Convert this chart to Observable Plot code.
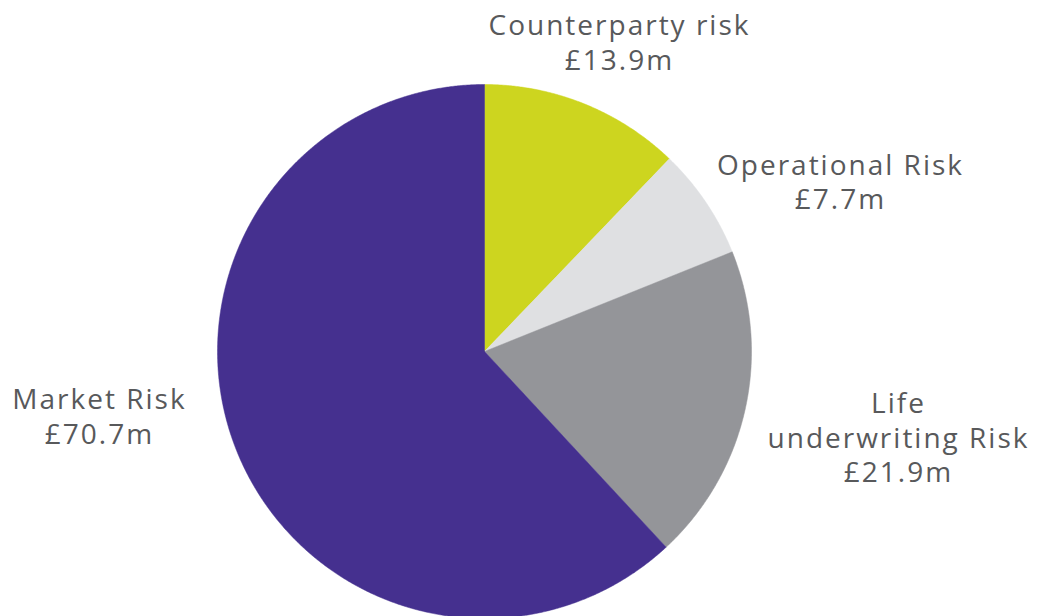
<!DOCTYPE html>
<html>
<head>
<meta charset="utf-8">
<script src="https://cdn.jsdelivr.net/npm/d3@7"></script>
<script src="https://cdn.jsdelivr.net/npm/@observablehq/plot@0.6"></script>
<style>
  html, body { margin: 0; padding: 0; background: #fff; }
  #chart svg { display: block; }
  #chart svg text { letter-spacing: 2px; }
</style>
</head>
<body>
<div id="chart"></div>
<script>
// Data
const categories = ["Counterparty risk", "Operational Risk", "Life underwriting Risk", "Market Risk"];
const values = [13.9, 7.7, 21.9, 70.7];
const labelTexts = ["Counterparty risk\n£13.9m", "Operational Risk\n£7.7m", "Life\nunderwriting Risk\n£21.9m", "Market Risk\n£70.7m"];

// Styles / layout
const colors = ["#CDD51F", "#DFE0E2", "#949599", "#45308F"];
const W = 1037, H = 616;
const cx = 484, cy = 351, R = 267; // pixel centre and radius
// label anchor positions in pie units (radius = 1)
const labelPos = [
  [(619 - cx) / R, (cy - 41) / R],
  [(840 - cx) / R, (cy - 180.5) / R],
  [(898 - cx) / R, (cy - 436) / R],
  [(99 - cx) / R, (cy - 415) / R]
];

const arcs = d3.pie().sort(null).startAngle(0).endAngle(2 * Math.PI)(values);
const pts = [];
arcs.forEach((a, i) => {
  const name = categories[i];
  pts.push({name, x: 0, y: 0});
  const n = Math.max(2, Math.ceil((a.endAngle - a.startAngle) / 0.005));
  for (let k = 0; k <= n; k++) {
    const t = a.startAngle + (a.endAngle - a.startAngle) * k / n;
    pts.push({name, x: Math.sin(t), y: Math.cos(t)});
  }
  pts.push({name, x: 0, y: 0});
});

const labels = categories.map((c, i) => ({name: c, text: labelTexts[i], x: labelPos[i][0], y: labelPos[i][1]}));

const chart = Plot.plot({
  width: W,
  height: H,
  margin: 0,
  x: {domain: [-cx / R, (W - cx) / R], axis: null},
  y: {domain: [-(H - cy) / R, cy / R], axis: null},
  color: {domain: categories, range: colors},
  marks: [
    Plot.line(pts, {x: "x", y: "y", z: "name", fill: "name", stroke: "name", strokeWidth: 0.5, curve: "linear"}),
    Plot.text(labels, {x: "x", y: "y", text: "text", fontSize: 28, lineHeight: 1.23, fill: "#58595B", fontFamily: "Open Sans", textAnchor: "middle", lineAnchor: "middle"})
  ]
});
document.getElementById("chart").appendChild(chart);
</script>
</body>
</html>
